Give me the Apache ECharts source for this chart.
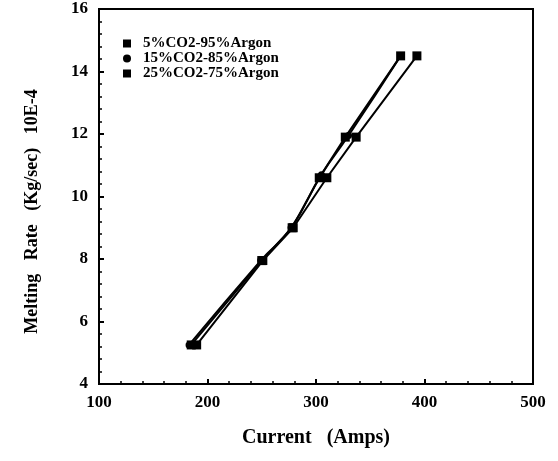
<!DOCTYPE html>
<html>
<head>
<meta charset="utf-8">
<script src="https://cdn.jsdelivr.net/npm/echarts@6/dist/echarts.min.js"></script>
<style>
  html, body { margin: 0; padding: 0; background: #fff; }
  #chart { width: 558px; height: 461px; }
</style>
</head>
<body>
<div id="chart"></div>
<script>
// 数据：电流 (Amps) 与熔化速率 (Kg/sec 10E-4)
var seriesNames = ["5%CO2-95%Argon", "15%CO2-85%Argon", "25%CO2-75%Argon"];
var co2_5 = [[185, 5.25], [250, 7.95], [278, 9.0], [303, 10.6], [327, 11.9], [378, 14.5]];
var co2_15 = [[183, 5.25], [249, 7.95], [277, 9.0], [305, 10.7], [330, 11.95], [378, 14.5]];
var co2_25 = [[190, 5.25], [251, 7.95], [279, 9.0], [310, 10.6], [337, 11.9], [393, 14.5]];
var xTicks = [100, 200, 300, 400, 500];
var yTicks = [4, 6, 8, 10, 12, 14, 16];

var font = "Liberation Serif";
var myChart = echarts.init(document.getElementById("chart"));

function lineSeries(name, data, symbol, size, smooth) {
  return {
    name: name,
    type: "line",
    data: data,
    symbol: symbol,
    symbolSize: size,
    smooth: smooth,
    lineStyle: { color: "#000", width: 2 },
    itemStyle: { color: "#000" },
  };
}

var option = {
  animation: false,
  backgroundColor: "#fff",
  grid: {
    left: 99,
    right: 25,
    top: 9,
    bottom: 77,
    show: true,
    borderColor: "#000",
    borderWidth: 2,
  },
  legend: {
    orient: "vertical",
    left: 118,
    top: 31,
    itemGap: 0,
    itemWidth: 8,
    itemHeight: 8,
    data: [
      { name: seriesNames[0], icon: "rect" },
      { name: seriesNames[1], icon: "circle" },
      { name: seriesNames[2], icon: "rect" },
    ],
    textStyle: {
      fontFamily: font,
      fontWeight: "bold",
      fontSize: 15,
      color: "#000",
      padding: [0, 0, 0, 7],
    },
  },
  xAxis: {
    type: "value",
    min: xTicks[0],
    max: xTicks[xTicks.length - 1],
    interval: 100,
    name: "Current   (Amps)",
    nameLocation: "middle",
    nameGap: 44,
    nameTextStyle: { fontFamily: font, fontWeight: "bold", fontSize: 20, color: "#000" },
    axisLine: { lineStyle: { color: "#000", width: 2 } },
    axisTick: { inside: true, length: 5, lineStyle: { color: "#000", width: 2 } },
    minorTick: { show: true, splitNumber: 5, length: 3, lineStyle: { color: "#000", width: 1.5 } },
    splitLine: { show: false },
    axisLabel: { fontFamily: font, fontWeight: "bold", fontSize: 17, color: "#000", margin: 10 },
  },
  yAxis: {
    type: "value",
    min: yTicks[0],
    max: yTicks[yTicks.length - 1],
    interval: 2,
    name: "Melting   Rate   (Kg/sec)   10E-4",
    nameLocation: "middle",
    nameGap: 58,
    nameTextStyle: {
      fontFamily: font,
      fontWeight: "bold",
      fontSize: 18,
      color: "#000",
      padding: [0, 30, 0, 0],
    },
    axisLine: { lineStyle: { color: "#000", width: 2 } },
    axisTick: { inside: true, length: 5, lineStyle: { color: "#000", width: 2 } },
    minorTick: { show: true, splitNumber: 5, length: 3, lineStyle: { color: "#000", width: 1.5 } },
    splitLine: { show: false },
    axisLabel: { fontFamily: font, fontWeight: "bold", fontSize: 17, color: "#000", margin: 11 },
  },
  series: [
    lineSeries(seriesNames[0], co2_5, "rect", 9, false),
    lineSeries(seriesNames[1], co2_15, "circle", 7, true),
    lineSeries(seriesNames[2], co2_25, "rect", 9, false),
  ],
};

myChart.setOption(option);
</script>
</body>
</html>
